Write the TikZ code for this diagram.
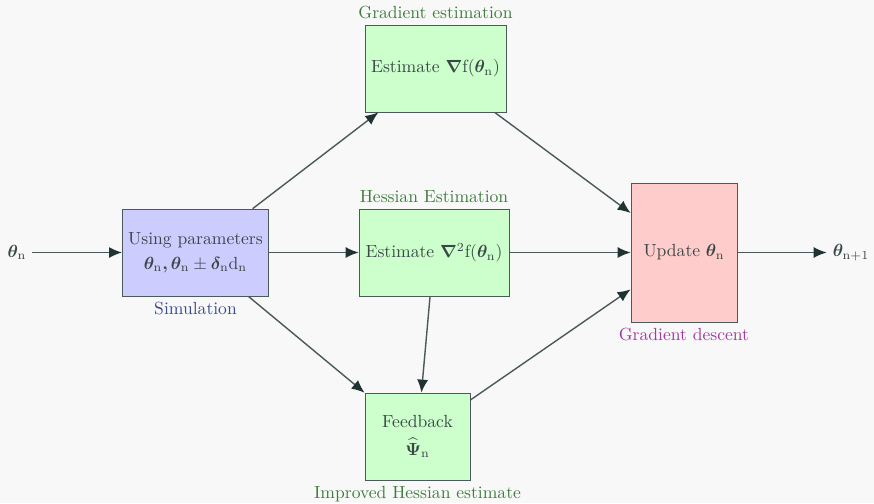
\documentclass[tikz,border=0pt]{standalone}
\usepackage{amsmath,amssymb}
\usepackage{bm}
\usepackage{tikz}
\usetikzlibrary{arrows.meta,positioning}
\usepackage{xcolor}

\definecolor{bgpaper}{HTML}{F8F8F8}
\definecolor{textgray}{HTML}{3A4747}
\definecolor{edgegray}{HTML}{4A5A5A}
\definecolor{tipdark}{HTML}{1F3333}
\definecolor{lblgreen}{HTML}{3D7D3D}
\definecolor{lblblue}{HTML}{3B4B8C}
\definecolor{lblpurple}{HTML}{A23AA2}

\begin{document}
\begin{tikzpicture}[
  box/.style={draw=edgegray, text=textgray, align=center, minimum height=1.74cm},
  flow/.style={draw=edgegray, thick, -{Latex[length=2.6mm,width=2.2mm,color=tipdark]}},
  every node/.style={text=textgray}
]
\fill[bgpaper] (0,0) rectangle (17.48,10.06);
\useasboundingbox (0,0) rectangle (17.48,10.06);

\node (thin) at (0.34,5.01) {$\bm{\theta}_{\mathrm{n}}$};
\node (thout) at (17.02,5.01) {$\bm{\theta}_{\mathrm{n+1}}$};

\node[box, fill=blue!20, minimum width=2.9cm]
  (sim) at (3.91,5.01) {Using parameters\\[2pt]
  $\bm{\theta}_{\mathrm{n}}\bm{,}\bm{\theta}_{\mathrm{n}}\pm\bm{\delta}_{\mathrm{n}}\mathrm{d}_{\mathrm{n}}$};
\node[box, fill=green!20, minimum width=2.82cm]
  (grad) at (8.71,8.69) {Estimate $\bm{\nabla}\mathrm{f}(\bm{\theta}_{\mathrm{n}})$};
\node[box, fill=green!20, minimum width=3cm]
  (hess) at (8.68,5.01) {Estimate $\bm{\nabla}^2\mathrm{f}(\bm{\theta}_{\mathrm{n}})$};
\node[box, fill=green!20, minimum width=2.1cm]
  (feed) at (8.35,1.33) {Feedback\\[4pt] $\widehat{\bm{\Psi}}_{\mathrm{n}}$};
\node[box, fill=red!20, minimum width=2.12cm, minimum height=2.78cm]
  (upd) at (13.68,5.01) {Update $\bm{\theta}_{\mathrm{n}}$};

\node[above=0pt of grad, text=lblgreen] (gradlbl) {Gradient estimation};
\node[above=0pt of hess, text=lblgreen] (hesslbl) {Hessian Estimation};
\node[below=0pt of sim, text=lblblue] (simlbl) {Simulation};
\node[below=0pt of feed, text=lblgreen] (feedlbl) {Improved Hessian estimate};
\node[below=0pt of upd, text=lblpurple] (updlbl) {Gradient descent};

\draw[flow] (thin) -- (sim);
\draw[flow] (sim) -- (grad);
\draw[flow] (sim) -- (hess);
\draw[flow] (sim) -- (feed);
\draw[flow] (grad) -- (upd);
\draw[flow] (hess) -- (upd);
\draw[flow] (hess) -- (feed);
\draw[flow] (feed) -- (upd);
\draw[flow] (upd) -- (thout);
\end{tikzpicture}
\end{document}
